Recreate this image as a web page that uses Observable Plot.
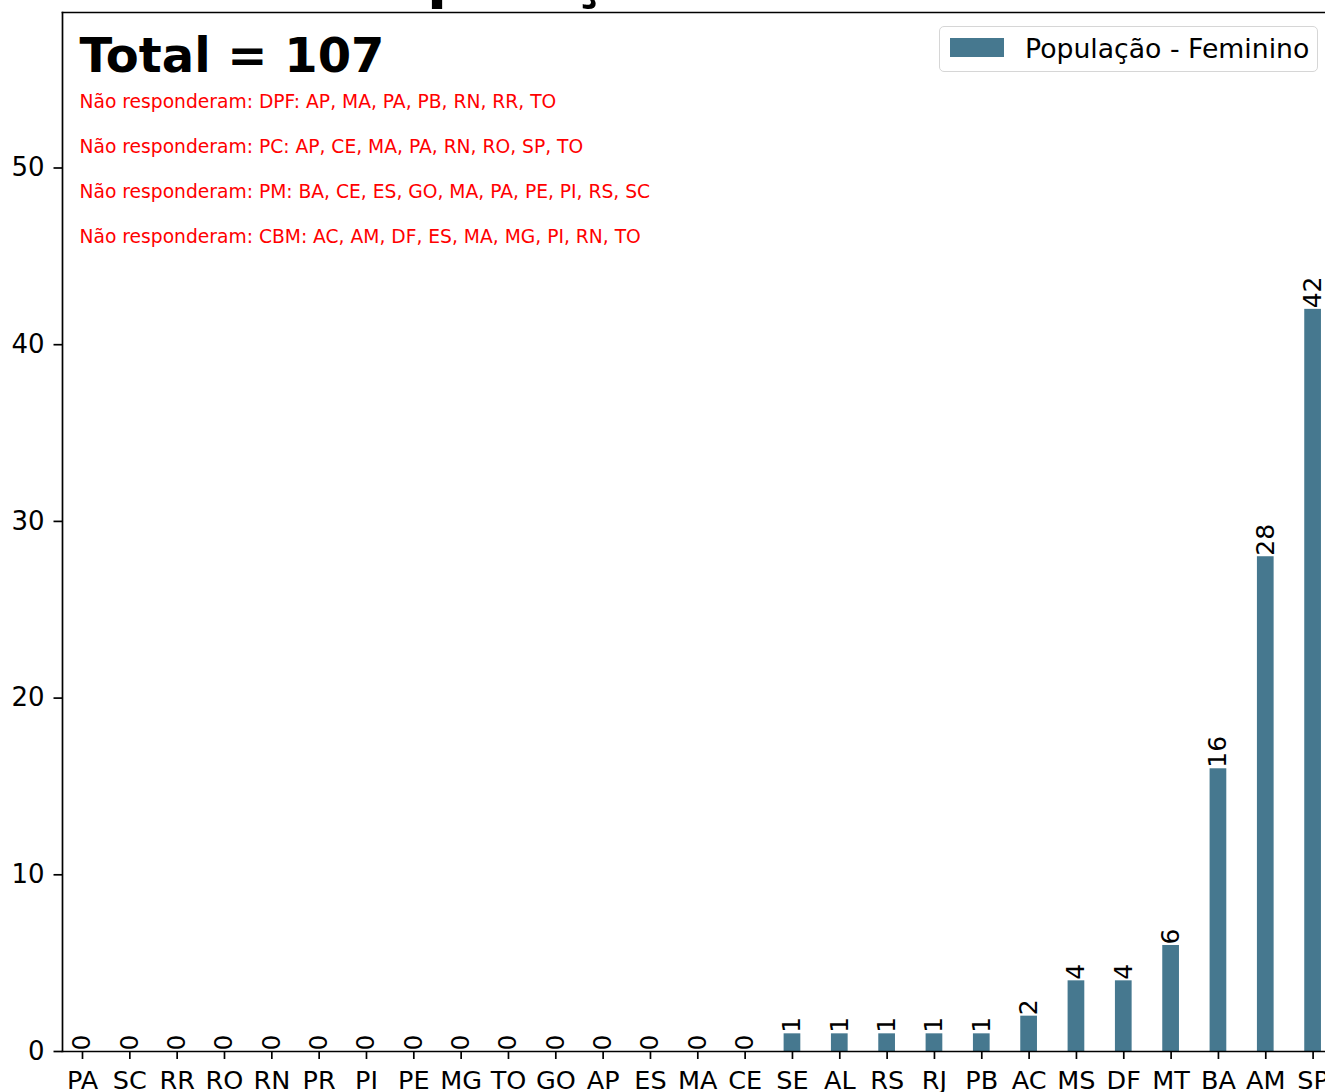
<!DOCTYPE html>
<html>
<head>
<meta charset="utf-8">
<script src="https://cdn.jsdelivr.net/npm/d3@7"></script>
<script src="https://cdn.jsdelivr.net/npm/@observablehq/plot@0.6"></script>
<style>
  html, body { margin: 0; padding: 0; background: #fff; overflow: hidden; }
  #wrap { position: relative; width: 1325px; height: 1092px; font-family: "DejaVu Sans", sans-serif; }
  #legend { position: absolute; left: 939px; top: 26px; width: 377px; height: 44px;
            border: 1.7px solid #d6d6d6; border-radius: 5px; background: rgba(255,255,255,0.85); }
  #legend .sw { position: absolute; left: 10px; top: 11px; width: 54px; height: 19px; }
  #legend .lb { position: absolute; left: 85px; top: 0; height: 44px; line-height: 44px;
                font-size: 26.7px; color: #000; white-space: nowrap; }
</style>
</head>
<body>
<div id="wrap"></div>
<script>
// ---- data ----
const estados = ["PA","SC","RR","RO","RN","PR","PI","PE","MG","TO","GO","AP","ES","MA","CE",
                 "SE","AL","RS","RJ","PB","AC","MS","DF","MT","BA","AM","SP"];
const valores = [0,0,0,0,0,0,0,0,0,0,0,0,0,0,0,
                 1,1,1,1,1,2,4,4,6,16,28,42];
const yTicks = [0, 10, 20, 30, 40, 50];
const titulo = "População - Feminino";
const serieNome = "População - Feminino";
const naoResponderam = [
  "Não responderam: DPF: AP, MA, PA, PB, RN, RR, TO",
  "Não responderam: PC: AP, CE, MA, PA, RN, RO, SP, TO",
  "Não responderam: PM: BA, CE, ES, GO, MA, PA, PE, PI, RS, SC",
  "Não responderam: CBM: AC, AM, DF, ES, MA, MG, PI, RN, TO"
];
const corBarra = "#46788f";

// ---- build ----
const data = estados.map((e, i) => ({estado: e, valor: valores[i]}));
const total = d3.sum(valores);
const yMax = d3.max(valores) * 1.4;

const chart = Plot.plot({
  width: 1325,
  height: 1092,
  marginLeft: 62,
  marginRight: 0,
  marginTop: 12,
  marginBottom: 41,
  style: {fontFamily: "DejaVu Sans", fontSize: "25px", color: "#000", background: "#fff", overflow: "hidden"},
  x: {type: "band", domain: estados, range: [62, 1332.6], paddingInner: 0.647, paddingOuter: 0.246, round: false, label: null},
  y: {domain: [0, yMax], label: null},
  marks: [
    Plot.barY(data, {x: "estado", y: "valor", fill: corBarra}),
    Plot.text(data, {x: "estado", y: "valor", text: d => String(d.valor), rotate: -90,
                     textAnchor: "start", lineAnchor: "middle", dy: -1, fontSize: 25, fill: "#000"}),
    Plot.axisX({tickSize: 8, tickPadding: 11, fontSize: 25.5, strokeWidth: 1.7, stroke: "#000", label: null}),
    Plot.axisY({ticks: yTicks, tickSize: 8.5, tickPadding: 9.5, fontSize: 26, strokeWidth: 1.7, stroke: "#000", label: null}),
    Plot.frame({anchor: "left", stroke: "#000", strokeWidth: 1.7}),
    Plot.frame({anchor: "top", stroke: "#000", strokeWidth: 1.7}),
    Plot.frame({anchor: "bottom", stroke: "#000", strokeWidth: 1.7}),
    Plot.text([titulo], {frameAnchor: "top", lineAnchor: "bottom", dx: 3.5, dy: -16,
                         fontSize: 58.5, fontWeight: "bold", fill: "#000"}),
    Plot.text([`Total = ${total}`], {frameAnchor: "top-left", textAnchor: "start", lineAnchor: "bottom",
                         dx: 17, dy: 59, fontSize: 48, fontWeight: "bold", fill: "#000"}),
    Plot.text([naoResponderam.join("\n")], {frameAnchor: "top-left", textAnchor: "start", lineAnchor: "bottom",
                         dx: 17, dy: 230, fontSize: 18.7, lineHeight: 45 / 18.7, fill: "#ff0000"})
  ]
});

const wrap = document.getElementById("wrap");
wrap.appendChild(chart);

const legend = document.createElement("div");
legend.id = "legend";
const sw = document.createElement("div");
sw.className = "sw";
sw.style.background = corBarra;
const lb = document.createElement("div");
lb.className = "lb";
lb.textContent = serieNome;
legend.appendChild(sw);
legend.appendChild(lb);
wrap.appendChild(legend);
</script>
</body>
</html>
